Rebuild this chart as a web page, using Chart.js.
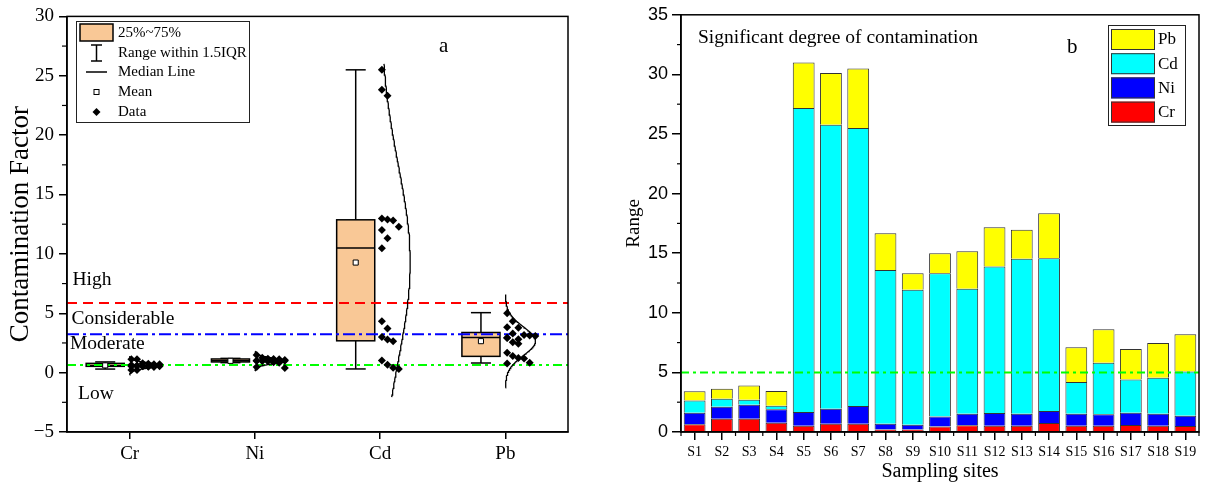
<!DOCTYPE html>
<html>
<head>
<meta charset="utf-8">
<script src="https://cdn.jsdelivr.net/npm/chart.js@4.4.1/dist/chart.umd.min.js"></script>
<style>
html, body { margin: 0; padding: 0; background: #fff; }
#wrap { position: relative; width: 1206px; height: 485px; }
canvas { position: absolute; top: 0; }
#left { left: 0; }
#right { left: 600px; }
</style>
</head>
<body>
<div id="wrap">
  <canvas id="left" width="600" height="485"></canvas>
  <canvas id="right" width="606" height="485"></canvas>
</div>
<script>
const SERIF = "'Liberation Serif', 'Times New Roman', serif";
const SANS = "'Liberation Sans', Arial, sans-serif";

// sampling sites and contamination factor per element
const sites = ['S1','S2','S3','S4','S5','S6','S7','S8','S9','S10','S11','S12','S13','S14','S15','S16','S17','S18','S19'];
const elements = ['Cr', 'Ni', 'Cd', 'Pb'];
const cr = [0.64,1.12,1.12,0.78,0.53,0.70,0.70,0.22,0.22,0.47,0.56,0.53,0.53,0.75,0.53,0.53,0.59,0.53,0.50];
const ni = [0.98,1.00,1.17,1.12,1.15,1.26,1.48,0.48,0.39,0.84,0.98,1.06,1.01,1.01,1.01,0.95,1.03,1.01,0.87];
const cd = [1.03,0.67,0.42,0.31,25.50,23.82,23.32,12.90,11.32,12.01,10.47,12.29,12.99,12.82,2.65,4.33,2.79,3.01,3.71];
const pb = [0.76,0.84,1.20,1.23,3.82,4.33,5.00,3.08,1.39,1.68,3.16,3.30,2.43,3.77,2.93,2.82,2.55,2.91,3.13];

// box plot statistics
const boxLow    = [0.30, 0.84, 0.31, 0.81];
const boxQ1     = [0.53, 0.90, 2.68, 1.37];
const boxMedian = [0.60, 1.01, 10.50, 2.96];
const boxQ3     = [0.78, 1.15, 12.87, 3.38];
const boxHigh   = [0.90, 1.20, 25.50, 5.05];
const boxMean   = [0.61, 0.99, 9.27, 2.65];
// range covered by the normal curves
const curveLow  = [-0.20, 0.15, -2.07, -1.28];
const curveHigh = [1.40, 1.80, 26.00, 6.59];

// thresholds
const levelNames  = ['High', 'Considerable', 'Moderate', 'Low'];
const levelValues = [5.86, 3.24, 0.64];
const degreeLimit = 5;

const seriesByElement = [cr, ni, cd, pb];
const barColors = ['#ff0000', '#0000ff', '#00ffff', '#ffff00'];

// layout constants (data units on the category axis)
const BOX_SHIFT = -0.195, BOX_HALF = 0.152, CAP_HALF = 0.08;
const BOX_FILL = '#f9c896';

/**
 * spreads points that overlap vertically into side by side slots
 */
function swarm(values, cat) {
    const order = values.map((v, i) => i).sort((a, b) => values[b] - values[a]);
    const slots = [];
    return order.map(i => {
        const v = values[i];
        let k = 0;
        while (slots[k] && slots[k].some(u => Math.abs(u - v) < 0.9)) k++;
        (slots[k] = slots[k] || []).push(v);
        return { x: cat + 0.014 + (k % 6) * 0.045, y: v };
    });
}

/**
 * normal distribution curve fitted to the values, drawn sideways
 */
function normalCurve(values, cat, lo, hi) {
    const n = values.length;
    const m = values.reduce((a, b) => a + b, 0) / n;
    const sd = Math.sqrt(values.reduce((a, b) => a + (b - m) ** 2, 0) / (n - 1));
    const pts = [];
    for (let j = 0; j <= 150; j++) {
        const y = lo + (hi - lo) * j / 150;
        pts.push({ x: cat + 0.24 * Math.exp(-((y - m) ** 2) / (2 * sd * sd)), y });
    }
    return pts;
}

function line(ctx, x1, y1, x2, y2) {
    ctx.beginPath(); ctx.moveTo(x1, y1); ctx.lineTo(x2, y2); ctx.stroke();
}

// frame around the plot and minor ticks
const framePlugin = {
    id: 'frame',
    afterDraw(chart, args, opts) {
        const { ctx, chartArea: a, scales } = chart;
        ctx.save();
        ctx.strokeStyle = '#000';
        ctx.lineWidth = 1.5;
        ctx.strokeRect(a.left, a.top, a.right - a.left, a.bottom - a.top);
        ctx.lineWidth = 1.2;
        const y = scales.y;
        for (let v = y.min + 2.5; v < y.max; v += 5) {
            const py = y.getPixelForValue(v);
            line(ctx, a.left - opts.minorLen, py, a.left, py);
        }
        if (opts.categoryMinor) {
            const x = scales.x;
            for (let i = 0; i <= sites.length; i++) {
                const px = x.getPixelForValue(i - 0.5);
                line(ctx, px, a.bottom, px, a.bottom + opts.minorLen);
            }
        }
        ctx.restore();
    }
};

// boxes and whiskers
const boxPlugin = {
    id: 'boxes',
    beforeDatasetsDraw(chart) {
        const { ctx, scales: { x, y } } = chart;
        ctx.save();
        ctx.strokeStyle = '#000';
        ctx.lineWidth = 1.5;
        elements.forEach((el, i) => {
            const c = i + 1 + BOX_SHIFT;
            const l = x.getPixelForValue(c - BOX_HALF), r = x.getPixelForValue(c + BOX_HALF);
            const m = x.getPixelForValue(c);
            const cl = x.getPixelForValue(c - CAP_HALF), cr2 = x.getPixelForValue(c + CAP_HALF);
            const yLow = y.getPixelForValue(boxLow[i]), yHigh = y.getPixelForValue(boxHigh[i]);
            const yQ1 = y.getPixelForValue(boxQ1[i]), yQ3 = y.getPixelForValue(boxQ3[i]);
            const yMed = y.getPixelForValue(boxMedian[i]);
            line(ctx, m, yLow, m, yQ1);
            line(ctx, m, yQ3, m, yHigh);
            line(ctx, cl, yLow, cr2, yLow);
            line(ctx, cl, yHigh, cr2, yHigh);
            ctx.fillStyle = BOX_FILL;
            ctx.fillRect(l, yQ3, r - l, yQ1 - yQ3);
            ctx.strokeRect(l, yQ3, r - l, yQ1 - yQ3);
            line(ctx, l, yMed, r, yMed);
        });
        ctx.restore();
    }
};

// texts and legend of panel a
const leftTexts = {
    id: 'leftTexts',
    afterDraw(chart) {
        const ctx = chart.ctx;
        ctx.save();
        ctx.fillStyle = '#000';
        ctx.textBaseline = 'alphabetic';
        ctx.font = '19.5px ' + SERIF;
        ctx.fillText(levelNames[0], 72.5, 285);
        ctx.fillText(levelNames[1], 71.5, 324);
        ctx.fillText(levelNames[2], 70, 349);
        ctx.fillText(levelNames[3], 78, 399);
        ctx.font = '21px ' + SERIF;
        ctx.fillText('a', 439, 52);

        // legend
        ctx.strokeStyle = '#222';
        ctx.lineWidth = 1;
        ctx.strokeRect(76.5, 21.5, 173, 101);
        ctx.fillStyle = BOX_FILL;
        ctx.fillRect(80, 24, 33, 17);
        ctx.lineWidth = 1.5;
        ctx.strokeStyle = '#000';
        ctx.strokeRect(80, 24, 33, 17);
        line(ctx, 96.5, 45, 96.5, 61);
        line(ctx, 91, 45, 102, 45);
        line(ctx, 91, 61, 102, 61);
        line(ctx, 86, 72, 107, 72);
        ctx.lineWidth = 1;
        ctx.fillStyle = '#fff';
        ctx.fillRect(94, 89.5, 5, 5);
        ctx.strokeRect(94, 89.5, 5, 5);
        ctx.fillStyle = '#000';
        ctx.beginPath();
        ctx.moveTo(96.5, 108); ctx.lineTo(100.5, 112); ctx.lineTo(96.5, 116); ctx.lineTo(92.5, 112);
        ctx.closePath(); ctx.fill();
        ctx.font = '15px ' + SERIF;
        ctx.textBaseline = 'middle';
        ['25%~75%', 'Range within 1.5IQR', 'Median Line', 'Mean', 'Data'].forEach((t, k) => {
            ctx.fillText(t, 118, 33 + k * 19.7);
        });
        ctx.restore();
    }
};

// texts and legend of panel b
const rightTexts = {
    id: 'rightTexts',
    afterDraw(chart) {
        const ctx = chart.ctx;
        ctx.save();
        ctx.fillStyle = '#000';
        ctx.font = '19.5px ' + SERIF;
        ctx.fillText('Significant degree of contamination', 98, 43);
        ctx.font = '21px ' + SERIF;
        ctx.fillText('b', 467, 53);

        ctx.strokeStyle = '#222';
        ctx.lineWidth = 1;
        ctx.strokeRect(508.5, 25.5, 77, 100);
        ctx.font = '17px ' + SERIF;
        ctx.textBaseline = 'middle';
        [3, 2, 1, 0].forEach((d, k) => {
            const top = 29 + k * 24.2;
            ctx.fillStyle = barColors[d];
            ctx.fillRect(511, top, 44, 21);
            ctx.strokeStyle = '#333';
            ctx.strokeRect(511.5, top + 0.5, 43, 20);
            ctx.fillStyle = '#000';
            ctx.fillText(elements[d], 558, top + 11);
        });
        ctx.restore();
    }
};

function startCharts() {
    // panel a: box plots
    const datasets = [];
    const dashes = [[10, 6], [12, 4, 3, 4], [9, 4, 3, 4, 3, 4]];
    const lineColors = ['#ff0000', '#0000ff', '#00ff00'];
    levelValues.forEach((v, k) => {
        datasets.push({
            data: [{ x: 0.5, y: v }, { x: 4.5, y: v }],
            showLine: true, pointRadius: 0, borderColor: lineColors[k],
            borderWidth: 2, borderDash: dashes[k], order: 3
        });
    });
    seriesByElement.forEach((vals, i) => {
        datasets.push({
            data: normalCurve(vals, i + 1, curveLow[i], curveHigh[i]),
            showLine: true, pointRadius: 0, borderColor: '#000', borderWidth: 1.3, order: 2
        });
        datasets.push({
            data: swarm(vals, i + 1),
            pointStyle: 'rectRot', pointRadius: 4, backgroundColor: '#000', borderColor: '#000',
            borderWidth: 0, order: 1
        });
    });
    datasets.push({
        data: boxMean.map((v, i) => ({ x: i + 1 + BOX_SHIFT, y: v })),
        pointStyle: 'rect', pointRadius: 3.6, backgroundColor: '#fff', borderColor: '#000',
        borderWidth: 1, order: 0
    });

    new Chart(document.querySelector('#left'), {
        type: 'scatter',
        data: { datasets },
        options: {
            responsive: false, animation: false, devicePixelRatio: 1,
            layout: { padding: { top: 14, right: 32, left: 0, bottom: 0 } },
            plugins: {
                legend: { display: false }, tooltip: { enabled: false },
                frame: { minorLen: 5 }
            },
            scales: {
                x: {
                    type: 'linear', min: 0.5, max: 4.5,
                    afterBuildTicks: axis => { axis.ticks = elements.map((e, i) => ({ value: i + 1 })); },
                    ticks: { callback: v => elements[v - 1], font: { family: SERIF, size: 19 }, color: '#000', padding: 4, maxRotation: 0, autoSkip: false },
                    grid: { drawOnChartArea: false, tickLength: 7, color: '#000', lineWidth: 1.5 },
                    border: { color: '#000', width: 1.5 },
                    afterFit: axis => { axis.height = 53; }
                },
                y: {
                    min: -5, max: 30,
                    ticks: { stepSize: 5, font: { family: SERIF, size: 19 }, color: '#000', padding: 5,
                        callback: v => v < 0 ? '\u2212' + (-v) : v },
                    grid: { drawOnChartArea: false, tickLength: 8, color: '#000', lineWidth: 1.5 },
                    border: { color: '#000', width: 1.5 },
                    title: { display: true, text: 'Contamination Factor', font: { family: SERIF, size: 27 }, color: '#000', padding: { top: 5, bottom: 0 } },
                    afterFit: axis => { axis.width = 67; }
                }
            }
        },
        plugins: [boxPlugin, framePlugin, leftTexts]
    });

    // panel b: stacked bars
    const barSets = [cr, ni, cd, pb].map((vals, d) => ({
        label: elements[d], data: vals, backgroundColor: barColors[d],
        borderColor: '#333', borderWidth: 1, order: 1, stack: 'sites',
        grouped: false, barPercentage: 0.8, categoryPercentage: 1
    }));
    barSets.push({
        type: 'line', label: 'limit', xAxisID: 'x2', stack: 'limit',
        data: [{ x: 0, y: degreeLimit }, { x: 1, y: degreeLimit }],
        borderColor: '#00ff00', borderWidth: 2, borderDash: [8, 4, 3, 4], pointRadius: 0, order: 0
    });

    new Chart(document.querySelector('#right'), {
        type: 'bar',
        data: { labels: sites, datasets: barSets },
        options: {
            responsive: false, animation: false, devicePixelRatio: 1,
            layout: { padding: { top: 14, right: 7, left: 0, bottom: 0 } },
            plugins: {
                legend: { display: false }, tooltip: { enabled: false },
                frame: { minorLen: 4, categoryMinor: true }
            },
            scales: {
                x: {
                    stacked: true, offset: true,
                    grid: { offset: false, drawOnChartArea: false, tickLength: 8, color: '#000', lineWidth: 1.5 },
                    border: { color: '#000', width: 1.5 },
                    ticks: { font: { family: SERIF, size: 14 }, color: '#000', padding: 4, maxRotation: 0, autoSkip: false },
                    title: { display: true, text: 'Sampling sites', font: { family: SERIF, size: 20 }, color: '#000', padding: { top: 0, bottom: 1 } },
                    afterFit: axis => { axis.height = 53; }
                },
                x2: { type: 'linear', display: false, offset: false, min: 0, max: 1 },
                y: {
                    stacked: true, min: 0, max: 35,
                    ticks: { stepSize: 5, font: { family: SANS, size: 18 }, color: '#000', padding: 4 },
                    grid: { drawOnChartArea: false, tickLength: 9, color: '#000', lineWidth: 1.5 },
                    border: { color: '#000', width: 1.5 },
                    title: { display: true, text: 'Range', font: { family: SERIF, size: 19 }, color: '#000', padding: { top: 23, bottom: 0 } },
                    afterFit: axis => { axis.width = 81; }
                }
            }
        },
        plugins: [framePlugin, rightTexts]
    });
}

startCharts();
</script>
</body>
</html>
